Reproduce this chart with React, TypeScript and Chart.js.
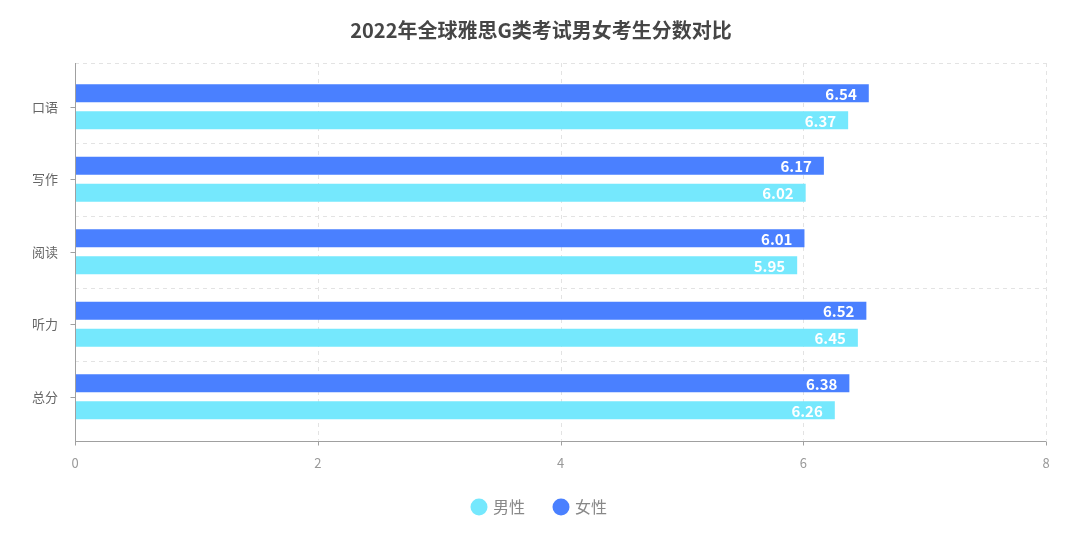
import React, { useEffect, useRef } from "react";
import { Chart, registerables } from "chart.js";

Chart.register(...registerables);

const categories = ["口语", "写作", "阅读", "听力", "总分"];
const femaleScores = [6.54, 6.17, 6.01, 6.52, 6.38];
const maleScores = [6.37, 6.02, 5.95, 6.45, 6.26];
const xTicks = [0, 2, 4, 6, 8];
const titleText = "2022年全球雅思G类考试男女考生分数对比";

const FONT = "'Noto Sans CJK SC', 'Noto Sans', sans-serif";
const FEMALE_COLOR = "#4A80FF";
const MALE_COLOR = "#75E8FD";
const EDGE = 7.5;

const decorPlugin = {
  id: "decor",
  beforeDatasetsDraw(chart: any) {
    const { ctx, chartArea } = chart;
    const x = chart.scales.x;
    const y = chart.scales.y;
    const top = chartArea.top - EDGE;
    const bottom = chartArea.bottom + EDGE;
    ctx.save();
    ctx.strokeStyle = "#e3e3e3";
    ctx.lineWidth = 1;
    ctx.setLineDash([4, 4]);
    ctx.beginPath();
    ctx.moveTo(chartArea.left, Math.round(top) + 0.5);
    ctx.lineTo(chartArea.right, Math.round(top) + 0.5);
    ctx.stroke();
    for (let i = 0; i < categories.length - 1; i++) {
      const py = (y.getPixelForValue(i) + y.getPixelForValue(i + 1)) / 2;
      ctx.beginPath();
      ctx.moveTo(chartArea.left, Math.round(py) + 0.5);
      ctx.lineTo(chartArea.right, Math.round(py) + 0.5);
      ctx.stroke();
    }
    for (const v of xTicks) {
      if (v === 0) continue;
      const px = Math.round(x.getPixelForValue(v)) + 0.5;
      ctx.beginPath();
      ctx.moveTo(px, top);
      ctx.lineTo(px, bottom);
      ctx.stroke();
    }
    ctx.restore();
  },
  afterDatasetsDraw(chart: any) {
    const { ctx, chartArea } = chart;
    const x = chart.scales.x;
    const y = chart.scales.y;
    const top = chartArea.top - EDGE;
    const bottom = Math.round(chartArea.bottom + EDGE) + 0.5;
    const left = Math.round(chartArea.left) + 0.5;
    ctx.save();
    ctx.strokeStyle = "#a0a0a0";
    ctx.lineWidth = 1;
    ctx.setLineDash([]);
    ctx.beginPath();
    ctx.moveTo(left, top);
    ctx.lineTo(left, bottom);
    ctx.stroke();
    for (let i = 0; i < categories.length; i++) {
      const py = Math.round(y.getPixelForValue(i)) + 0.5;
      ctx.beginPath();
      ctx.moveTo(left - 5, py);
      ctx.lineTo(left, py);
      ctx.stroke();
    }
    ctx.beginPath();
    ctx.moveTo(chartArea.left, bottom);
    ctx.lineTo(chartArea.right, bottom);
    ctx.stroke();
    for (const v of xTicks) {
      const px = Math.round(x.getPixelForValue(v)) + 0.5;
      ctx.beginPath();
      ctx.moveTo(px, bottom);
      ctx.lineTo(px, bottom + 4);
      ctx.stroke();
    }
    ctx.fillStyle = "#ffffff";
    ctx.font = `bold 15px ${FONT}`;
    ctx.textAlign = "right";
    ctx.textBaseline = "middle";
    chart.data.datasets.forEach((ds: any, di: number) => {
      const meta = chart.getDatasetMeta(di);
      meta.data.forEach((bar: any, i: number) => {
        ctx.fillText(ds.data[i].toFixed(2), bar.x - 12, bar.y + 1);
      });
    });
    ctx.fillStyle = "#464646";
    ctx.font = `bold 20px ${FONT}`;
    ctx.textAlign = "center";
    ctx.fillText(titleText, 541, 30);
    ctx.restore();
  },
};

export default function App() {
  const ref = useRef<HTMLCanvasElement>(null);
  useEffect(() => {
    if (!ref.current) return;
    const chart = new Chart(ref.current, {
      type: "bar",
      data: {
        labels: categories,
        datasets: [
          {
            label: "女性",
            data: femaleScores,
            backgroundColor: FEMALE_COLOR,
            categoryPercentage: 54 / 72.6,
            barPercentage: 2 / 3,
          },
          {
            label: "男性",
            data: maleScores,
            backgroundColor: MALE_COLOR,
            categoryPercentage: 54 / 72.6,
            barPercentage: 2 / 3,
          },
        ],
      },
      plugins: [decorPlugin],
      options: {
        indexAxis: "y",
        animation: false,
        responsive: false,
        maintainAspectRatio: false,
        layout: { padding: { left: 0, right: 0, top: 70.5, bottom: 18 } },
        scales: {
          x: {
            type: "linear",
            min: 0,
            max: 8,
            afterBuildTicks: (s: any) => {
              s.ticks = xTicks.map((v) => ({ value: v }));
            },
            grid: { display: false },
            border: { display: false },
            ticks: {
              padding: 14,
              color: "#999999",
              font: { family: FONT, size: 13 },
            },
            afterFit: (s: any) => {
              s.height = 36;
            },
          },
          y: {
            type: "category",
            grid: { display: false },
            border: { display: false },
            ticks: {
              padding: 9,
              color: "#666666",
              font: { family: FONT, size: 13 },
            },
            afterFit: (s: any) => {
              s.width = 75;
            },
          },
          yRight: {
            type: "category",
            position: "right",
            display: true,
            grid: { display: false },
            border: { display: false },
            ticks: { display: false },
            afterFit: (s: any) => {
              s.width = 34;
            },
          },
        },
        plugins: {
          title: { display: false },
          tooltip: { enabled: false },
          legend: {
            display: true,
            position: "bottom",
            reverse: true,
            labels: {
              usePointStyle: true,
              pointStyle: "circle",
              boxWidth: 12,
              boxHeight: 12,
              padding: 30,
              color: "#888888",
              font: { family: FONT, size: 16 },
            },
          },
        },
      },
    });
    return () => chart.destroy();
  }, []);
  return (
    <div style={{ position: "absolute", left: 0, top: 0, width: 1080, height: 543, background: "#fff" }}>
      <canvas ref={ref} width={1080} height={543} style={{ width: 1080, height: 543 }} />
    </div>
  );
}
